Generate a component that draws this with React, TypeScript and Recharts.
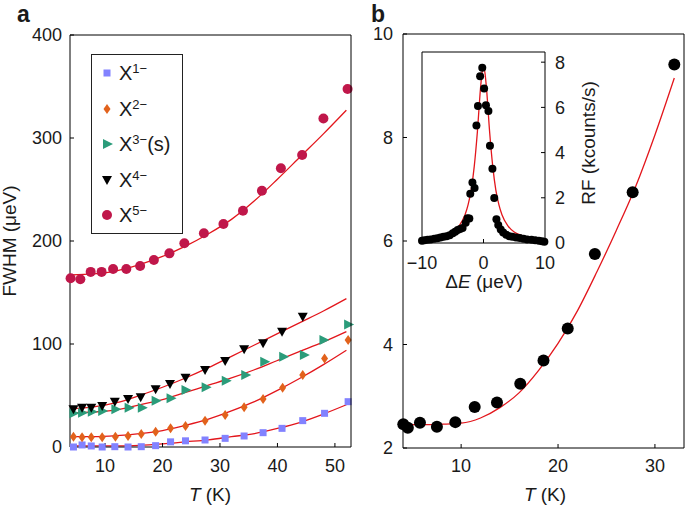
import React from "react";
import { ComposedChart, Scatter, Line, XAxis, YAxis } from "recharts";

const FONT = "'Liberation Sans', Arial, Helvetica, sans-serif";
const RED = "#e3161c";
const INK = "#1a1a1a";

// ---- panel a: FWHM (µeV) vs T (K), five excitons ----
const t1 = [4.5, 6, 7.6, 9.5, 11.7, 14, 16.3, 18.8, 21.4, 24, 27.4, 30.9, 34.2, 37.5, 40.8, 44.4, 48.2, 52.3];
const w1 = [0, 2, 1, 0, 0.3, 0, 0.3, 1.3, 5, 6, 6.8, 8.4, 10.7, 13.9, 18.1, 25.6, 32.7, 44];
const t2 = [4.5, 6, 7.6, 9.5, 11.8, 14, 16.3, 18.8, 21.4, 24, 27.4, 30.9, 34.2, 37.5, 40.9, 44.4, 48.2, 52.3];
const w2 = [10, 9.4, 9.4, 9.4, 10, 10.7, 12.6, 14.9, 18.2, 20.4, 25.5, 31, 38.5, 46.6, 57.6, 70, 86, 104];
const t3 = [4.5, 6, 7.7, 9.5, 11.8, 14.1, 16.4, 18.8, 21.4, 24, 27.5, 31, 34.4, 37.7, 41, 44.6, 48, 52.3];
const w3 = [32.7, 33.3, 34.3, 35, 36.6, 38.2, 38.2, 45, 47.3, 55.3, 58, 64.4, 70, 82.8, 87.7, 89.3, 104, 119];
const t4 = [4.5, 6, 7.6, 9.5, 11.7, 14, 16.2, 18.8, 21.3, 24, 27.4, 30.9, 34.2, 37.5, 40.8, 44.4];
const w4 = [36.6, 38.2, 38.2, 39.8, 44, 46.6, 48.2, 56, 61.2, 67.3, 74.8, 83.5, 94.8, 100.7, 112, 126.5];
const t5 = [4, 5.7, 7.5, 9.4, 11.4, 13.7, 16.1, 18.5, 21.2, 23.8, 27.2, 30.6, 34, 37.3, 40.6, 44.3, 48, 52.2];
const w5 = [163.8, 162.8, 170, 170, 172.8, 172.8, 175.7, 181.5, 188, 197.8, 207.5, 216.5, 229.4, 248.8, 270.6, 283.5, 319, 347.6];

// fitted curves
const fitT = [4, 8, 12, 16, 20, 24, 28, 32, 36, 40, 44, 48, 52];
const fit1 = [1, 1, 1, 1.5, 3, 5, 7, 10, 13, 18, 24, 32, 41];
const fit2 = [10, 10, 11, 13, 16, 21, 27, 35, 44, 55, 67, 80, 94];
const fit3 = [33, 34, 36, 41, 46, 53, 60, 67, 75, 84, 93, 102, 112];
const fit4 = [37, 39, 43, 50, 58, 67, 77, 88, 99, 110, 121, 132, 144];
const fit5 = [167, 168, 171, 177, 185, 195, 207, 221, 239, 260, 282, 304, 327];

const aXTicks = [10, 20, 30, 40, 50];
const aYTicks = [0, 100, 200, 300, 400];
const aXDomain = [3.9, 52.8];
const aYDomain = [0, 400];

// ---- panel b: one line, T dependence ----
const bT = [4.03, 4.5, 5.75, 7.5, 9.4, 11.4, 13.7, 16.1, 18.5, 21.0, 23.8, 27.7, 32.0];
const bW = [2.46, 2.39, 2.49, 2.41, 2.5, 2.79, 2.88, 3.24, 3.69, 4.31, 5.75, 6.94, 9.41];
const bFitT = [4, 6, 8, 10, 12, 14, 16, 18, 20, 22, 24, 26, 28, 30, 32];
const bFit = [2.45, 2.45, 2.46, 2.48, 2.58, 2.78, 3.07, 3.5, 4.02, 4.65, 5.4, 6.2, 7.05, 8.05, 9.15];
const bXTicks = [10, 20, 30];
const bYTicks = [2, 4, 6, 8, 10];
const bXDomain = [4, 33];
const bYDomain = [2, 10];

// ---- inset: RF spectrum ----
const dE = [-10.0, -9.6, -9.1, -8.6, -8.0, -7.5, -7.0, -6.5, -6.0, -5.5, -5.0, -4.6, -4.2, -3.8, -3.4, -2.9, -2.6, -2.3, -2.15, -1.8, -1.45, -1.15, -0.9, -0.55, -0.2, 0.1, 0.4, 0.8, 1.05, 1.45, 1.75, 2.1, 2.4, 2.8, 3.2, 3.7, 4.2, 4.7, 5.3, 5.9, 6.5, 7.1, 7.8, 8.4, 9.0, 9.5, 9.9];
const rf = [0.1, 0.12, 0.14, 0.16, 0.19, 0.21, 0.24, 0.28, 0.3, 0.34, 0.43, 0.5, 0.58, 0.62, 0.66, 0.9, 1.1, 1.08, 2.18, 2.68, 2.43, 5.2, 6.06, 7.38, 7.75, 6.83, 6.09, 5.84, 4.3, 3.28, 1.99, 1.05, 0.8, 0.6, 0.46, 0.36, 0.3, 0.28, 0.24, 0.22, 0.19, 0.16, 0.14, 0.12, 0.1, 0.08, 0.06];
const eFitX = [-10, -8, -6, -5, -4, -3, -2.5, -2, -1.5, -1, -0.5, -0.25, 0, 0.25, 0.5, 1, 1.5, 2, 2.5, 3, 4, 5, 6, 8, 10];
const eFit = [0.13, 0.2, 0.35, 0.49, 0.75, 1.25, 1.7, 2.35, 3.4, 4.9, 6.8, 7.5, 7.8, 7.5, 6.8, 4.9, 3.4, 2.35, 1.7, 1.25, 0.75, 0.49, 0.35, 0.2, 0.13];
const eXTicks = [-10, 0, 10];
const eYTicks = [0, 2, 4, 6, 8];
const eXDomain = [-10, 10];
const eYDomain = [0, 8.45];

const legendNames = ["1−", "2−", "3−", "4−", "5−"];
const legendSuffix = ["", "", "(s)", "", ""];

const C1 = "#8282ff";
const C2 = "#e2621c";
const C3 = "#2b9c7a";
const C4 = "#000000";
const C5 = "#c0174a";

const zip = (xs: number[], ys: number[]) => xs.map((x, i) => ({ x, y: ys[i] }));

const Square = (p: any) => <rect x={p.cx - 3.5} y={p.cy - 3.5} width={7} height={7} fill={C1} />;
const Diamond = (p: any) => (
  <polygon points={`${p.cx},${p.cy - 5} ${p.cx + 3.5},${p.cy} ${p.cx},${p.cy + 5} ${p.cx - 3.5},${p.cy}`} fill={C2} />
);
const TriRight = (p: any) => (
  <polygon points={`${p.cx - 4},${p.cy - 5} ${p.cx + 6},${p.cy} ${p.cx - 4},${p.cy + 5}`} fill={C3} />
);
const TriDown = (p: any) => (
  <polygon points={`${p.cx - 5},${p.cy - 4} ${p.cx + 5},${p.cy - 4} ${p.cx},${p.cy + 5}`} fill={C4} />
);
const Dot5 = (p: any) => <circle cx={p.cx} cy={p.cy} r={5} fill={C5} />;
const DotB = (p: any) => <circle cx={p.cx} cy={p.cy} r={6} fill="#000" />;
const DotE = (p: any) => <circle cx={p.cx} cy={p.cy} r={4} fill="#000" />;
const Nothing = () => <g />;

const shapes = [Square, Diamond, TriRight, TriDown, Dot5];
const colors = [C1, C2, C3, C4, C5];
const scatters = [zip(t1, w1), zip(t2, w2), zip(t3, w3), zip(t4, w4), zip(t5, w5)];
const fits = [fit1, fit2, fit3, fit4, fit5].map((f) => zip(fitT, f));

const tickStyle = { fontSize: 18, fill: INK, fontFamily: FONT };
const axisLine = { stroke: "#000", strokeWidth: 1 };
const minus = (v: number) => (v < 0 ? `−${Math.abs(v)}` : `${v}`);

function fitLine(data: { x: number; y: number }[], key: string) {
  return (
    <Line
      key={key}
      data={data}
      dataKey="y"
      type="monotone"
      stroke={RED}
      strokeWidth={1.3}
      dot={false}
      activeDot={false}
      isAnimationActive={false}
    />
  );
}

// the other two sides of a plot box: a second chart laid over the first with the same plot area,
// axes on the opposite sides, inward ticks, no labels
type FrameProps = {
  width: number;
  height: number;
  margin: { top: number; right: number; bottom: number; left: number };
  xd: number[];
  yd: number[];
  xt: number[];
  yt: number[];
  data: { x: number; y: number }[];
  yOrient: "left" | "right";
};

function Frame({ width, height, margin, xd, yd, xt, yt, data, yOrient }: FrameProps) {
  return (
    <ComposedChart width={width} height={height} margin={margin}>
      <XAxis type="number" dataKey="x" orientation="top" domain={xd} ticks={xt} height={30}
        axisLine={axisLine} tickLine={axisLine} tickSize={-4} tick={false} />
      <YAxis type="number" orientation={yOrient} domain={yd} ticks={yt} width={30}
        axisLine={axisLine} tickLine={axisLine} tickSize={-4} tick={false} />
      <Scatter data={data} dataKey="y" shape={Nothing} fill="none" isAnimationActive={false} />
    </ComposedChart>
  );
}

function PanelA() {
  return (
    <ComposedChart width={360} height={507} margin={{ top: 35, right: 9, bottom: 0, left: 0 }}>
      <XAxis type="number" dataKey="x" domain={aXDomain} ticks={aXTicks} height={60}
        axisLine={axisLine} tickLine={axisLine} tickSize={-4} tickMargin={16} tick={tickStyle} />
      <YAxis type="number" domain={aYDomain} ticks={aYTicks} width={70}
        axisLine={axisLine} tickLine={axisLine} tickSize={-4} tickMargin={12} tick={tickStyle} />
      {scatters.map((d, i) => (
        <Scatter key={`s${i}`} data={d} dataKey="y" shape={shapes[i]} fill={colors[i]} isAnimationActive={false} />
      ))}
      {fits.map((d, i) => fitLine(d, `f${i}`))}
    </ComposedChart>
  );
}

function PanelB() {
  return (
    <ComposedChart width={345} height={507} margin={{ top: 34, right: 1, bottom: 0, left: 0 }}>
      <XAxis type="number" dataKey="x" domain={bXDomain} ticks={bXTicks} height={59}
        axisLine={axisLine} tickLine={axisLine} tickSize={-4} tickMargin={15} tick={tickStyle} />
      <YAxis type="number" domain={bYDomain} ticks={bYTicks} width={63}
        axisLine={axisLine} tickLine={axisLine} tickSize={-4} tickMargin={14} tick={tickStyle} />
      <Scatter data={zip(bT, bW)} dataKey="y" shape={DotB} fill="#000" isAnimationActive={false} />
      {fitLine(zip(bFitT, bFit), "bfit")}
    </ComposedChart>
  );
}

function Inset() {
  return (
    <ComposedChart width={200} height={240} margin={{ top: 11, right: 0, bottom: 0, left: 21 }}>
      <XAxis type="number" dataKey="x" domain={eXDomain} ticks={eXTicks} height={38}
        axisLine={axisLine} tickLine={axisLine} tickSize={-4} tickMargin={17} tick={tickStyle} tickFormatter={minus} />
      <YAxis type="number" orientation="right" domain={eYDomain} ticks={eYTicks} width={56}
        axisLine={axisLine} tickLine={axisLine} tickSize={-4} tickMargin={14} tick={tickStyle} />
      <Scatter data={zip(dE, rf)} dataKey="y" shape={DotE} fill="#000" isAnimationActive={false} />
      {fitLine(zip(eFitX, eFit), "efit")}
    </ComposedChart>
  );
}

function LegendBox() {
  return (
    <div style={{ position: "absolute", left: 91, top: 54, width: 92, height: 180, border: "1px solid #222", background: "#fff", boxSizing: "border-box" }}>
      {legendNames.map((n, i) => {
        const Shape = shapes[i];
        return (
          <div key={n} style={{ position: "absolute", left: 0, top: 6 + i * 35.5, height: 24, display: "flex", alignItems: "center" }}>
            <svg width={27} height={24} style={{ display: "block" }}>
              <Shape cx={15} cy={12} />
            </svg>
            <span style={{ fontSize: 20, color: INK, fontFamily: FONT, lineHeight: "24px", whiteSpace: "nowrap" }}>
              X<sup style={{ fontSize: 13, verticalAlign: "7px", lineHeight: 0 }}>{n}</sup>{legendSuffix[i]}
            </span>
          </div>
        );
      })}
    </div>
  );
}

export default function App() {
  return (
    <div style={{ position: "absolute", left: 0, top: 0, width: 685, height: 507, background: "#fff", fontFamily: FONT, overflow: "hidden" }}>
      <div style={{ position: "absolute", left: 0, top: 0 }}><PanelA /></div>
      <div style={{ position: "absolute", left: 0, top: 0 }}>
        <Frame width={381} height={507} margin={{ top: 5, right: 0, bottom: 60, left: 70 }}
          xd={aXDomain} yd={aYDomain} xt={aXTicks} yt={aYTicks} data={scatters[4]} yOrient="right" />
      </div>
      <div style={{ position: "absolute", left: 340, top: 0 }}><PanelB /></div>
      <div style={{ position: "absolute", left: 340, top: 0 }}>
        <Frame width={374} height={507} margin={{ top: 4, right: 0, bottom: 59, left: 63 }}
          xd={bXDomain} yd={bYDomain} xt={bXTicks} yt={bYTicks} data={zip(bT, bW)} yOrient="right" />
      </div>
      <div style={{ position: "absolute", left: 401, top: 41 }}><Inset /></div>
      <div style={{ position: "absolute", left: 371, top: 11 }}>
        <Frame width={230} height={270} margin={{ top: 11, right: 56, bottom: 39, left: 21 }}
          xd={eXDomain} yd={eYDomain} xt={eXTicks} yt={eYTicks} data={zip(dE, rf)} yOrient="left" />
      </div>
      <LegendBox />
      <svg width={685} height={507} style={{ position: "absolute", left: 0, top: 0, pointerEvents: "none" }}>
        <g fontFamily={FONT} fill={INK}>
          <text x={17} y={22} fontSize={23} fontWeight="bold">a</text>
          <text x={371} y={22} fontSize={23} fontWeight="bold">b</text>
          <text x={16} y={241} fontSize={19} textAnchor="middle" transform="rotate(-90 16 241)">FWHM (μeV)</text>
          <text x={210} y={501} fontSize={19} textAnchor="middle"><tspan fontStyle="italic">T</tspan> (K)</text>
          <text x={545} y={501} fontSize={19} textAnchor="middle"><tspan fontStyle="italic">T</tspan> (K)</text>
          <text x={484} y={288} fontSize={19} textAnchor="middle">Δ<tspan fontStyle="italic">E</tspan> (μeV)</text>
          <text x={595} y={143} fontSize={19} textAnchor="middle" transform="rotate(-90 595 143)">RF (kcounts/s)</text>
        </g>
      </svg>
    </div>
  );
}
